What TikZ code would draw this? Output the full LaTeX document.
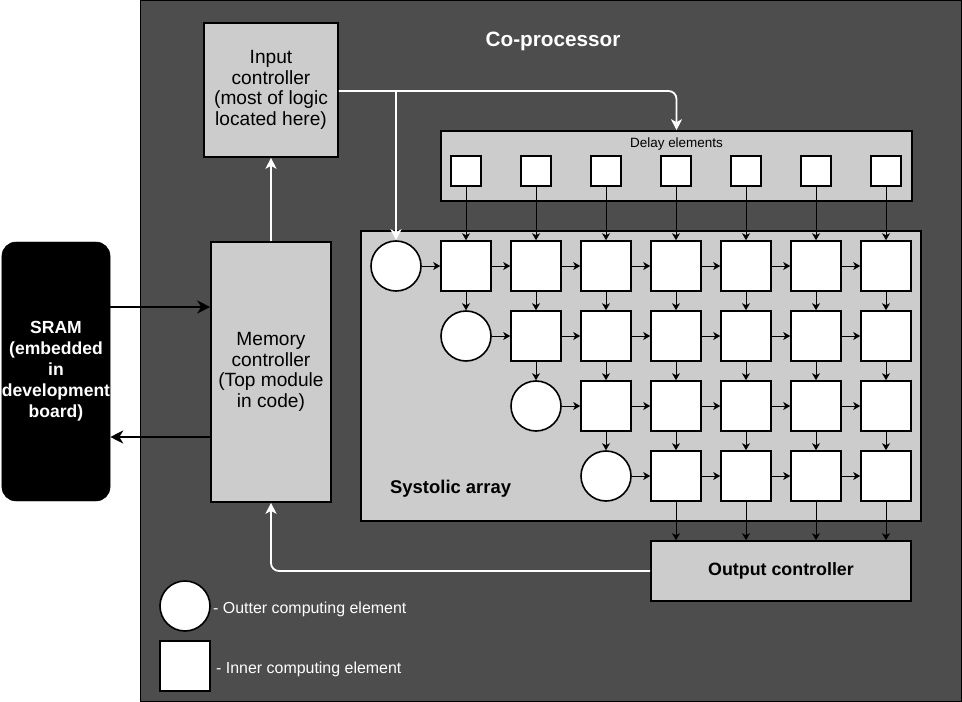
\documentclass[tikz,border=0pt]{standalone}
\usepackage{fontspec}
\setmainfont{Liberation Sans}
\usetikzlibrary{arrows.meta}
\definecolor{darkbg}{HTML}{4D4D4D}
\definecolor{boxgray}{HTML}{CCCCCC}
\begin{document}
\begin{tikzpicture}[x=1bp,y=-1bp,
  box/.style={draw=black,line width=1.6bp,fill=boxgray,inner sep=0pt},
  pe/.style={draw=black,line width=1.6bp,fill=white,minimum width=50bp,minimum height=50bp,inner sep=0pt},
  de/.style={draw=black,line width=1.6bp,fill=white,minimum width=30bp,minimum height=30bp,inner sep=0pt},
  oce/.style={circle,draw=black,line width=1.6bp,fill=white,minimum size=50bp,inner sep=0pt},
  conn/.style={draw=black,line width=1bp,-{Stealth[length=7bp,width=8bp,inset=2bp]}},
  wire/.style={draw=white,line width=1.8bp,-{Stealth[length=11bp,width=11bp,inset=3bp]}},
  bus/.style={draw=black,line width=2.2bp,-{Stealth[length=13bp,width=13bp,inset=4bp]}},
  lbl/.style={inner sep=0pt},
  midfont/.style={font=\fontsize{19.2}{20.8}\selectfont},
]
\useasboundingbox (0,0) rectangle (962,702);
\fill[white] (0,0) rectangle (962,702);
\node[draw=black,line width=1bp,fill=darkbg,minimum width=820bp,minimum height=700bp,inner sep=0pt] (copro) at (551,351) {};
\node[lbl,anchor=base,text=white,font=\bfseries\fontsize{20.8}{25}\selectfont] (title) at (553,47) {Co-processor};

\node[fill=black,draw=black,rounded corners=14bp,minimum width=108bp,minimum height=259bp,inner sep=0pt,text=white,align=center,font=\bfseries\fontsize{17.6}{21}\selectfont] (sram) at (56,371.5) {SRAM\\(embedded\\in\\development\\board)};

\node[box,midfont,minimum width=120bp,minimum height=260bp,align=center] (mem) at (271,372) {Memory\\controller\\(Top module\\in code)};
\node[box,midfont,minimum width=134bp,minimum height=134bp,align=center] (inctl) at (271,90) {Input\\controller\\(most of logic\\located here)};

\node[box,minimum width=471bp,minimum height=70bp] (delay) at (676.5,166) {};
\node[lbl,anchor=base,font=\fontsize{13.5}{16}\selectfont] (delaylbl) at (676.5,148) {Delay elements};
\foreach \k in {1,...,7} \node[de] (d\k) at ({466+70*(\k-1)},171) {};

\node[box,minimum width=560bp,minimum height=290bp] (sys) at (641,376) {};
\node[lbl,anchor=base west,font=\bfseries\fontsize{18.5}{22}\selectfont] (syslbl) at (390,493) {Systolic array};

\foreach \r in {1,...,4}{
  \node[oce] (c\r) at ({396+70*(\r-1)},{266+70*(\r-1)}) {};
  \foreach \c in {\r,...,7} \node[pe] (s\r\c) at ({466+70*(\c-1)},{266+70*(\r-1)}) {};
}

\node[box,minimum width=260bp,minimum height=60bp,font=\bfseries\fontsize{17.9}{21}\selectfont] (outc) at (781,571) {Output controller};

\node[oce] (lc) at (185,606) {};
\node[pe] (ls) at (185,666) {};
\node[lbl,anchor=base west,text=white,font=\fontsize{16}{19}\selectfont] (lct) at (213,613) {- Outter computing element};
\node[lbl,anchor=base west,text=white,font=\fontsize{16}{19}\selectfont] (lst) at (216,673) {- Inner computing element};

\coordinate (yA) at (0,307);
\coordinate (yB) at (0,437);
\coordinate (yIC) at (0,91);
\draw[bus] (sram.east |- yA) -- (mem.west |- yA);
\draw[bus] (mem.west |- yB) -- (sram.east |- yB);
\draw[wire] (mem.north) -- (inctl.south);
\draw[wire,rounded corners=8bp] (inctl.east |- yIC) -| (delay.north);
\draw[wire] (c1 |- yIC) -- (c1.north);
\draw[wire,rounded corners=8bp] (outc.west) -| (mem.south);

\foreach \k in {1,...,7} \draw[conn] (d\k.south) -- (s1\k.north);
\foreach \r in {1,...,4}{
  \draw[conn] (c\r.east) -- (s\r\r.west);
  \foreach \c [evaluate=\c as \n using {int(\c+1)}] in {\r,...,6}
    \draw[conn] (s\r\c.east) -- (s\r\n.west);
}
\foreach \r [evaluate=\r as \n using {int(\r+1)}] in {1,2,3}{
  \draw[conn] (s\r\r.south) -- (c\n.north);
  \foreach \c in {\n,...,7}
    \draw[conn] (s\r\c.south) -- (s\n\c.north);
}
\foreach \c in {4,...,7} \draw[conn] (s4\c.south) -- (s4\c.south |- outc.north);
\end{tikzpicture}
\end{document}
